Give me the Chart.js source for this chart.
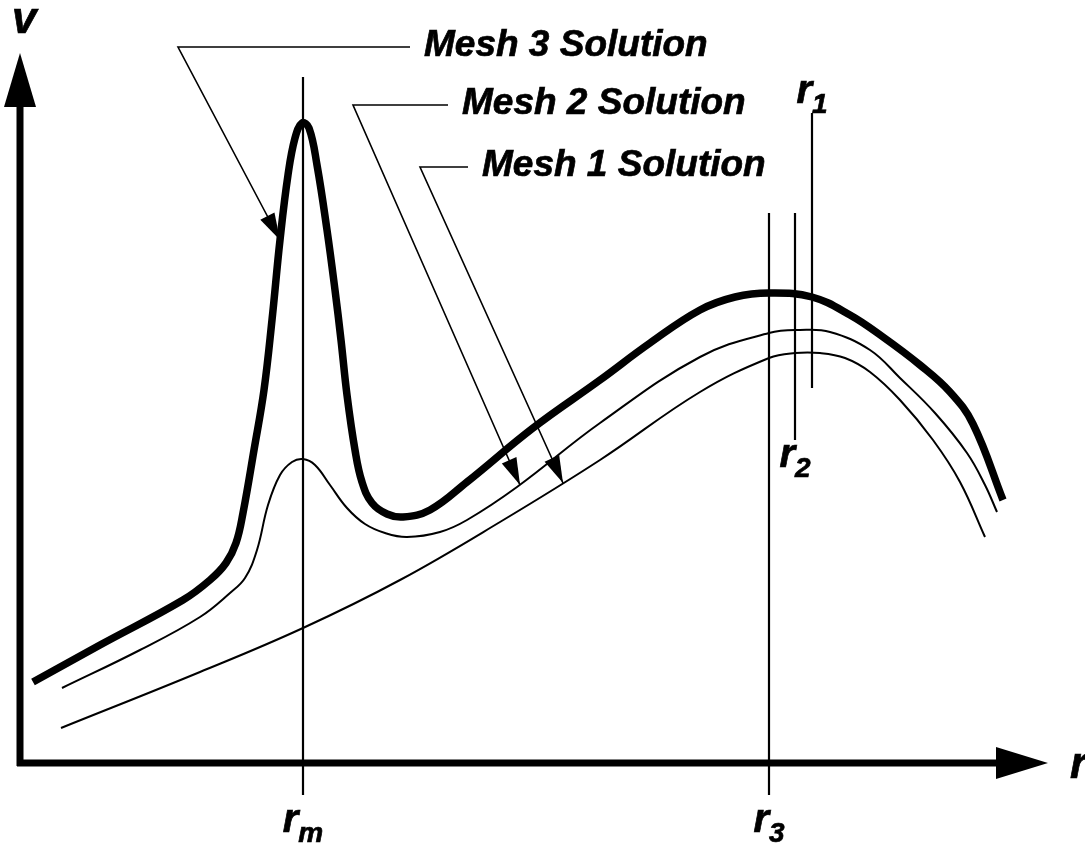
<!DOCTYPE html>
<html>
<head>
<meta charset="utf-8">
<script src="https://cdn.jsdelivr.net/npm/chart.js@4.4.0/dist/chart.umd.min.js"></script>
<style>
  html, body { margin: 0; padding: 0; background: #fff; }
  #wrap { width: 1085px; height: 843px; position: relative; }
</style>
</head>
<body>
<div id="wrap"><canvas id="meshChart"></canvas></div>
<script>
// velocity profiles v(r) for the three meshes (arbitrary units)
const mesh3R = [1.3, 8.0, 16.3, 19.0, 20.6, 21.6, 22.3, 23.4, 24.4, 25.2, 26.0, 26.8, 27.5, 28.2, 28.9, 29.7, 30.7, 31.5, 32.1, 32.7, 33.5, 34.2, 35.2, 36.7, 38.3, 41.0, 44.7, 51.3, 58.0, 63.0, 68.0, 71.5, 74.9, 79.2, 83.0, 86.3, 90.0, 93.0, 95.3, 98.3];
const mesh3V = [8.1, 11.8, 16.3, 18.3, 20.0, 22.0, 25.0, 31.3, 37.3, 44.3, 52.3, 58.8, 62.5, 64.0, 63.5, 59.8, 53.3, 47.3, 42.3, 36.8, 31.3, 28.1, 26.0, 24.9, 24.6, 25.3, 28.1, 33.5, 38.3, 42.0, 45.3, 46.6, 47.0, 46.6, 44.8, 42.6, 39.8, 37.1, 33.9, 26.3];

const mesh2R = [4.2, 12.0, 18.0, 21.0, 22.5, 23.7, 24.8, 26.0, 27.2, 28.3, 29.5, 31.0, 32.7, 34.5, 36.5, 38.7, 42.0, 44.7, 49.7, 58.0, 68.0, 74.9, 78.0, 81.0, 85.0, 88.0, 91.5, 94.7, 96.5, 97.7];
const mesh2V = [7.5, 11.3, 14.6, 17.0, 18.5, 21.3, 25.8, 28.8, 30.1, 30.4, 29.8, 27.8, 25.5, 23.9, 23.0, 22.6, 23.1, 24.3, 27.6, 34.0, 40.6, 43.0, 43.3, 43.1, 41.3, 38.5, 35.0, 31.0, 27.8, 25.1];

const mesh1R = [4.1, 18.0, 28.3, 38.0, 48.0, 58.0, 68.0, 74.9, 77.5, 80.0, 82.5, 85.0, 88.0, 91.3, 94.0, 96.5];
const mesh1V = [3.5, 9.1, 13.5, 18.3, 24.1, 30.3, 37.1, 40.5, 41.0, 41.0, 40.5, 39.1, 36.3, 32.3, 28.1, 22.6];

// marker lines: r_m (peak), r_3, r_2, r_1 (maxima of each mesh)
const markerName = ["m", "3", "2", "1"];
const markerR = [28.3, 74.9, 77.5, 79.2];
const markerLow = [-3.2, -3.2, 32.3, 37.5];
const markerHigh = [68.6, 55.0, 55.0, 65.0];

// leader callouts
const leaderText = ["Mesh 3 Solution", "Mesh 2 Solution", "Mesh 1 Solution"];
const leaderElbowR = [15.8, 33.3, 40.0];
const leaderElbowV = [71.6, 65.8, 59.6];
const leaderEndR = [39.0, 42.8, 44.8];
const leaderTipR = [26.0, 50.0, 54.3];
const leaderTipV = [52.3, 27.8, 28.0];

// axis extents
const axisMaxR = 102.8;
const axisMaxV = 71.0;

const pts = (xs, ys) => xs.map((x, i) => ({ x, y: ys[i] }));

const BOLD = "'Liberation Sans', Arial, Helvetica, sans-serif";

function arrowHead(ctx, x0, y0, x1, y1, len, half) {
  const a = Math.atan2(y1 - y0, x1 - x0);
  ctx.beginPath();
  ctx.moveTo(x1, y1);
  ctx.lineTo(x1 - len * Math.cos(a) + half * Math.sin(a), y1 - len * Math.sin(a) - half * Math.cos(a));
  ctx.lineTo(x1 - len * Math.cos(a) - half * Math.sin(a), y1 - len * Math.sin(a) + half * Math.cos(a));
  ctx.closePath();
  ctx.fill();
}

// bold text with a hairline outline so it reads as heavy as Helvetica Bold
function heavyText(ctx, txt, x, y) {
  ctx.fillText(txt, x, y);
  ctx.lineWidth = 0.7;
  ctx.strokeText(txt, x, y);
}

/* ===============================
   axes with arrow heads
=============================== */
const axesPlugin = {
  id: "arrowAxes",
  beforeDatasetsDraw(chart) {
    const { ctx, scales } = chart;
    const x = scales.x, y = scales.y;
    const ox = x.getPixelForValue(0), oy = y.getPixelForValue(0);
    const tx = x.getPixelForValue(axisMaxR), ty = y.getPixelForValue(axisMaxV);

    ctx.save();
    ctx.strokeStyle = "#000";
    ctx.fillStyle = "#000";
    ctx.lineWidth = 7;
    ctx.beginPath();
    ctx.moveTo(ox - 3, oy);
    ctx.lineTo(tx - 40, oy);
    ctx.moveTo(ox, oy + 3);
    ctx.lineTo(ox, ty + 40);
    ctx.stroke();
    arrowHead(ctx, ox, oy, tx, oy, 52, 16);
    arrowHead(ctx, ox, oy, ox, ty, 54, 16);

    ctx.font = "bold italic 44px " + BOLD;
    ctx.textBaseline = "alphabetic";
    heavyText(ctx, "v", ox - 8, ty - 20);
    heavyText(ctx, "r", tx + 22, oy + 15);
    ctx.restore();
  }
};

/* ===============================
   marker labels + callouts
=============================== */
const notesPlugin = {
  id: "notes",
  afterDatasetsDraw(chart) {
    const { ctx, scales } = chart;
    const x = scales.x, y = scales.y;
    ctx.save();
    ctx.fillStyle = "#000";
    ctx.strokeStyle = "#000";

    // r_m, r_3, r_2 below the line, r_1 above it
    markerName.forEach((sub, i) => {
      const cx = x.getPixelForValue(markerR[i]);
      ctx.font = "bold italic 40px " + BOLD;
      const w1 = ctx.measureText("r").width;
      ctx.font = "bold italic 28px " + BOLD;
      const w2 = ctx.measureText(sub).width;
      const left = cx - (w1 + w2) / 2;
      let base;
      if (sub === "1") base = y.getPixelForValue(markerHigh[i]) - 10;
      else if (sub === "2") base = y.getPixelForValue(markerLow[i]) + 27;
      else base = y.getPixelForValue(markerLow[i]) + 37;
      ctx.font = "bold italic 40px " + BOLD;
      heavyText(ctx, "r", left, base);
      ctx.font = "bold italic 28px " + BOLD;
      heavyText(ctx, sub, left + w1, base + 10);
    });

    // leaders: label line, slanted line, filled arrow head
    leaderText.forEach((txt, i) => {
      const ex = x.getPixelForValue(leaderElbowR[i]);
      const ey = y.getPixelForValue(leaderElbowV[i]);
      const lx = x.getPixelForValue(leaderEndR[i]);
      const px = x.getPixelForValue(leaderTipR[i]);
      const py = y.getPixelForValue(leaderTipV[i]);
      ctx.lineWidth = 1.6;
      ctx.beginPath();
      ctx.moveTo(lx, ey);
      ctx.lineTo(ex, ey);
      ctx.lineTo(px, py);
      ctx.stroke();
      arrowHead(ctx, ex, ey, px, py, 27, 8);

      ctx.font = "bold italic 37px " + BOLD;
      heavyText(ctx, txt, lx + 14, ey + 9);
    });
    ctx.restore();
  }
};

const markerSets = markerName.map((n, i) => ({
  label: "r" + n,
  data: [{ x: markerR[i], y: markerLow[i] }, { x: markerR[i], y: markerHigh[i] }],
  borderColor: "#000",
  borderWidth: 2.2,
  pointRadius: 0,
  showLine: true
}));

new Chart(document.getElementById("meshChart"), {
  type: "scatter",
  data: {
    datasets: [
      ...markerSets,
      {
        label: "Mesh 1 Solution",
        data: pts(mesh1R, mesh1V),
        borderColor: "#000",
        borderWidth: 2,
        pointRadius: 0,
        showLine: true,
        tension: 0.4
      },
      {
        label: "Mesh 2 Solution",
        data: pts(mesh2R, mesh2V),
        borderColor: "#000",
        borderWidth: 2,
        pointRadius: 0,
        showLine: true,
        tension: 0.4
      },
      {
        label: "Mesh 3 Solution",
        data: pts(mesh3R, mesh3V),
        borderColor: "#000",
        borderWidth: 7.5,
        pointRadius: 0,
        showLine: true,
        borderCapStyle: "butt",
        borderJoinStyle: "round",
        tension: 0.4
      }
    ]
  },
  options: {
    responsive: true,
    maintainAspectRatio: false,
    animation: false,
    layout: { padding: { left: 20, right: 5, top: 3, bottom: 80 } },
    scales: {
      x: { type: "linear", min: 0, max: 106, display: false },
      y: { type: "linear", min: 0, max: 76, display: false }
    },
    plugins: {
      legend: { display: false },
      tooltip: { enabled: false }
    },
    clip: false
  },
  plugins: [axesPlugin, notesPlugin]
});
</script>
</body>
</html>
